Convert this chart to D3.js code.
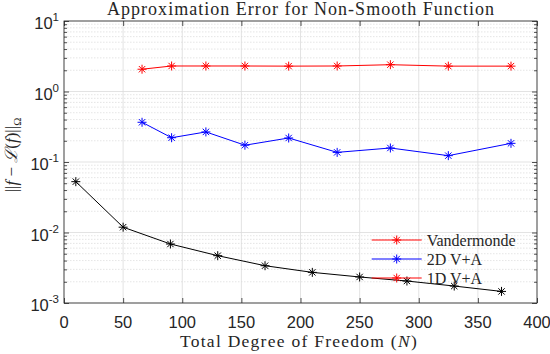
<!DOCTYPE html>
<html>
<head>
<meta charset="utf-8">
<script src="https://cdn.jsdelivr.net/npm/d3@7"></script>
<style>
  body { margin: 0; background: #fff; }
  .axis path { display: none; }
  .axis line { stroke: #262626; stroke-width: 0.8; }
  .tick-label { font-family: "Liberation Sans", Arial, sans-serif; fill: #262626; }
  .serif { font-family: "Liberation Serif", "DejaVu Serif", serif; fill: #262626; }
</style>
</head>
<body>
<div id="chart"></div>
<script>
// data
var dofSquare = [66, 91, 120, 153, 190, 231, 276, 325, 378];
var vandermonde = [2.07, 2.30, 2.30, 2.30, 2.29, 2.30, 2.40, 2.29, 2.29];
var va2d = [0.366, 0.221, 0.267, 0.173, 0.219, 0.137, 0.158, 0.123, 0.184];
var dofLine = [10, 50, 90, 130, 170, 210, 250, 290, 330, 370];
var va1d = [0.0526, 0.0119, 0.00687, 0.00469, 0.00338, 0.00272, 0.00234, 0.00205, 0.00174, 0.00146];

var xTicks = [0, 50, 100, 150, 200, 250, 300, 350, 400];
var yExps = [-3, -2, -1, 0, 1];
var legendNames = ["Vandermonde", "2D V+A", "1D V+A"];
var legendColors = ["#ff0000", "#0000ff", "#ff0000"];

var svgWidth = 550, svgHeight = 354;
var margin = { top: 21, right: 13, bottom: 51, left: 64 };
var chartWidth = svgWidth - margin.left - margin.right;
var chartHeight = svgHeight - margin.top - margin.bottom;

var svg = d3.select("#chart").append("svg")
  .attr("width", svgWidth)
  .attr("height", svgHeight);

var chartGroup = svg.append("g")
  .attr("transform", `translate(${margin.left}, ${margin.top})`);

var xScale = d3.scaleLinear().domain([0, 400]).range([0, chartWidth]);
var yScale = d3.scaleLog().domain([1e-3, 10]).range([chartHeight, 0]);

// widen a text with letter spacing so it spans about the given width
function spreadText(sel, width) {
  var len = sel.node().getComputedTextLength();
  var n = sel.text().length;
  if (len < width) sel.attr("letter-spacing", (width - len) / n);
}

// minor log values
var minors = [];
yExps.slice(0, -1).forEach(function(e) {
  for (var m = 2; m <= 9; m++) minors.push(m * Math.pow(10, e));
});
var majors = yExps.map(function(e) { return Math.pow(10, e); });

// grid
chartGroup.selectAll(".minor-grid").data(minors).enter().append("line")
  .attr("x1", 0).attr("x2", chartWidth)
  .attr("y1", d => yScale(d)).attr("y2", d => yScale(d))
  .attr("stroke", "#d4d4d4").attr("stroke-width", 0.6)
  .attr("stroke-dasharray", "1.5,1.5");

chartGroup.selectAll(".ygrid").data(majors).enter().append("line")
  .attr("x1", 0).attr("x2", chartWidth)
  .attr("y1", d => yScale(d)).attr("y2", d => yScale(d))
  .attr("stroke", "#dcdcdc").attr("stroke-width", 0.8);

chartGroup.selectAll(".xgrid").data(xTicks).enter().append("line")
  .attr("x1", d => xScale(d)).attr("x2", d => xScale(d))
  .attr("y1", 0).attr("y2", chartHeight)
  .attr("stroke", "#dcdcdc").attr("stroke-width", 0.8);

// axes, ticks pointing inward
chartGroup.append("g").attr("class", "axis")
  .attr("transform", `translate(0, ${chartHeight})`)
  .call(d3.axisBottom(xScale).tickValues(xTicks).tickSize(-5).tickFormat(""));
chartGroup.append("g").attr("class", "axis")
  .call(d3.axisTop(xScale).tickValues(xTicks).tickSize(-5).tickFormat(""));
chartGroup.append("g").attr("class", "axis")
  .call(d3.axisLeft(yScale).tickValues(majors).tickSize(-5).tickFormat(""));
chartGroup.append("g").attr("class", "axis")
  .call(d3.axisLeft(yScale).tickValues(minors).tickSize(-3).tickFormat(""));
chartGroup.append("g").attr("class", "axis")
  .attr("transform", `translate(${chartWidth}, 0)`)
  .call(d3.axisRight(yScale).tickValues(majors).tickSize(-5).tickFormat(""));
chartGroup.append("g").attr("class", "axis")
  .attr("transform", `translate(${chartWidth}, 0)`)
  .call(d3.axisRight(yScale).tickValues(minors).tickSize(-3).tickFormat(""));

chartGroup.append("rect")
  .attr("width", chartWidth).attr("height", chartHeight)
  .attr("fill", "none").attr("stroke", "#262626").attr("stroke-width", 0.8);

// tick labels
chartGroup.selectAll(".xlab").data(xTicks).enter().append("text")
  .attr("class", "tick-label")
  .attr("x", d => xScale(d)).attr("y", chartHeight + 25)
  .attr("text-anchor", "middle").attr("font-size", 16.5)
  .text(d => d);

var ylab = chartGroup.selectAll(".ylab").data(yExps).enter().append("text")
  .attr("class", "tick-label")
  .attr("x", -5).attr("y", d => yScale(Math.pow(10, d)) + 8)
  .attr("text-anchor", "end").attr("font-size", 16.5);
ylab.append("tspan").text("10");
ylab.append("tspan").attr("dy", -8).attr("font-size", 11.5).text(d => d);

// series
var line = d3.line().x(d => xScale(d[0])).y(d => yScale(d[1]));

function asterisk(s) {
  var d = s * 0.707;
  return `M${-s},0L${s},0M0,${-s}L0,${s}M${-d},${-d}L${d},${d}M${-d},${d}L${d},${-d}`;
}

function drawSeries(xs, ys, color) {
  var pts = xs.map((x, i) => [x, ys[i]]);
  chartGroup.append("path").datum(pts)
    .attr("d", line).attr("fill", "none")
    .attr("stroke", color).attr("stroke-width", 1);
  chartGroup.selectAll(null).data(pts).enter().append("path")
    .attr("transform", d => `translate(${xScale(d[0])}, ${yScale(d[1])})`)
    .attr("d", asterisk(4.5)).attr("fill", "none")
    .attr("stroke", color).attr("stroke-width", 1);
}

drawSeries(dofSquare, vandermonde, "#ff0000");
drawSeries(dofSquare, va2d, "#0000ff");
drawSeries(dofLine, va1d, "#000000");

// legend (no box)
var legend = chartGroup.append("g")
  .attr("transform", `translate(${371.7 - margin.left}, ${240 - margin.top})`);
legendNames.forEach(function(name, i) {
  var g = legend.append("g").attr("transform", `translate(0, ${i * 19})`);
  g.append("line").attr("x1", 0).attr("x2", 50)
    .attr("stroke", legendColors[i]).attr("stroke-width", 1);
  g.append("path").attr("transform", "translate(25, 0)")
    .attr("d", asterisk(4.5)).attr("fill", "none")
    .attr("stroke", legendColors[i]).attr("stroke-width", 1);
  g.append("text").attr("class", "serif")
    .attr("x", 55).attr("y", 5.5).attr("font-size", 16)
    .text(name);
});

// title and axis labels
var title = svg.append("text").attr("class", "serif")
  .attr("x", 301).attr("y", 15)
  .attr("text-anchor", "middle").attr("font-size", 18)
  .text("Approximation Error for Non-Smooth Function");
spreadText(title, 388);

var xl = svg.append("text").attr("class", "serif")
  .attr("x", 299).attr("y", 347)
  .attr("text-anchor", "middle").attr("font-size", 17.5);
xl.append("tspan").text("Total Degree of Freedom (");
xl.append("tspan").attr("font-style", "italic").text("N");
xl.append("tspan").text(")");
spreadText(xl, 238);

var yl = svg.append("text").attr("class", "serif")
  .attr("transform", "translate(17, 155) rotate(-90)")
  .attr("text-anchor", "middle").attr("font-size", 17);
yl.append("tspan").text("||");
yl.append("tspan").attr("font-style", "italic").text("f");
yl.append("tspan").text(" \u2212 ");
yl.append("tspan").attr("font-style", "italic").text("\u2112");
yl.append("tspan").text("(");
yl.append("tspan").attr("font-style", "italic").text("f");
yl.append("tspan").text(")||");
yl.append("tspan").attr("dy", 4).attr("font-size", 11).text("\u03a9");
</script>
</body>
</html>
